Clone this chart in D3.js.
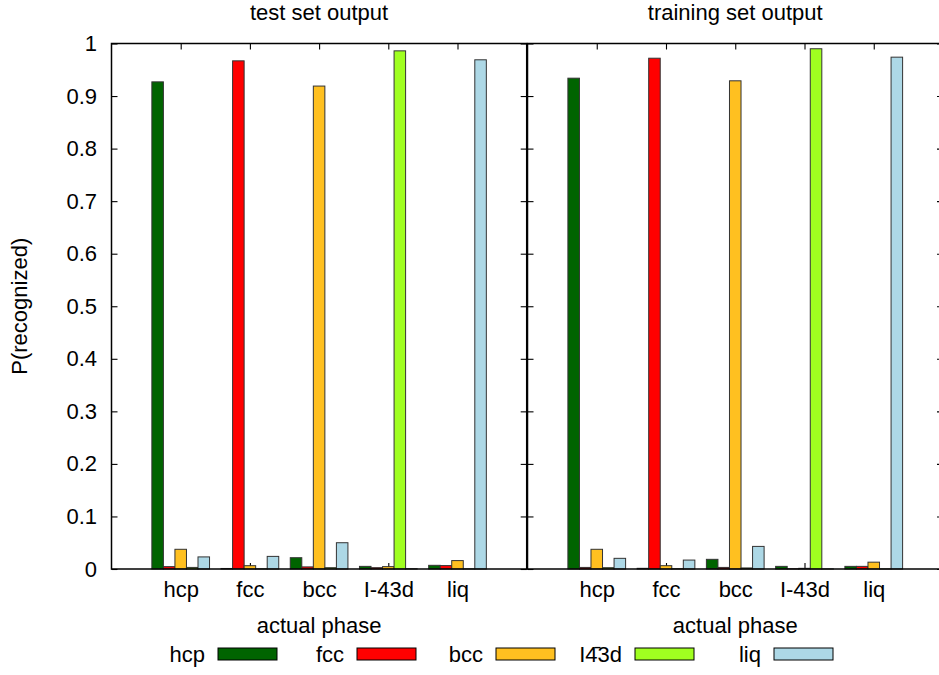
<!DOCTYPE html>
<html>
<head>
<meta charset="utf-8">
<script src="https://cdn.jsdelivr.net/npm/d3@7"></script>
<style>
  html, body { margin: 0; padding: 0; background: #fff; }
  svg text { font-family: "Liberation Sans", Arial, sans-serif; fill: #000; }
</style>
</head>
<body>
<svg id="chart" width="939" height="675"></svg>
<script>
// Actual phases along the x axis
const categories = ["hcp", "fcc", "bcc", "I-43d", "liq"];
// Predicted classes (one bar series each)
const seriesNames = ["hcp", "fcc", "bcc", "I4\u03043d", "liq"];
const seriesColors = ["#006400", "#ff0000", "#ffc020", "#a0ff20", "#add8e6"];

// Test set: probability of each predicted class, per actual phase
const testHcp  = [0.927, 0.001, 0.0215, 0.005, 0.007];
const testFcc  = [0.0045, 0.967, 0.004, 0.0025, 0.0065];
const testBcc  = [0.0375, 0.0063, 0.919, 0.0045, 0.016];
const testI43d = [0.003, 0.0003, 0.0025, 0.986, 0.0003];
const testLiq  = [0.023, 0.024, 0.050, 0.0005, 0.969];

// Training set
const trainHcp  = [0.934, 0.0013, 0.0184, 0.005, 0.005];
const trainFcc  = [0.003, 0.972, 0.003, 0.0005, 0.005];
const trainBcc  = [0.0375, 0.0063, 0.929, 0.0013, 0.013];
const trainI43d = [0.0025, 0.0005, 0.002, 0.990, 0.0002];
const trainLiq  = [0.0203, 0.017, 0.043, 0.0002, 0.974];

const yTicks = [0, 0.1, 0.2, 0.3, 0.4, 0.5, 0.6, 0.7, 0.8, 0.9, 1];
const panelTitles = ["test set output", "training set output"];
const xLabel = "actual phase";
const yLabel = "P(recognized)";

const svg = d3.select("#chart");
const FONT = 22;

const plotTop = 43.5, plotBottom = 569;
const y = d3.scaleLinear().domain([0, 1]).range([plotBottom, plotTop]);

const panels = [
  { title: panelTitles[0], series: [testHcp, testFcc, testBcc, testI43d, testLiq], x0: 111.5, x1: 526.7, yLabels: true },
  { title: panelTitles[1], series: [trainHcp, trainFcc, trainBcc, trainI43d, trainLiq], x0: 527.5, x1: 943, yLabels: false }
];

const nSeries = seriesNames.length;
const barW = 1 / (nSeries + 1); // histogram clustering with gap 1

panels.forEach(p => {
  const x = d3.scaleLinear().domain([-1, 5]).range([p.x0, p.x1]);
  const g = svg.append("g");
  const idx = d3.range(categories.length);

  // ticks first, bars are drawn over them
  const leftAxis = d3.axisLeft(y).tickValues(yTicks).tickSize(-6).tickPadding(14.5)
    .tickFormat(p.yLabels ? d3.format("~g") : "");
  const rightAxis = d3.axisRight(y).tickValues(yTicks).tickSize(-6).tickFormat("");
  const bottomAxis = d3.axisBottom(x).tickValues(idx).tickSize(-6).tickPadding(12.5)
    .tickFormat(i => categories[i]);
  const topAxis = d3.axisTop(x).tickValues(idx).tickSize(-6).tickFormat("");

  const axes = [
    g.append("g").attr("transform", `translate(${p.x0},0)`).call(leftAxis),
    g.append("g").attr("transform", `translate(${p.x1},0)`).call(rightAxis),
    g.append("g").attr("transform", `translate(0,${plotBottom})`).call(bottomAxis),
    g.append("g").attr("transform", `translate(0,${plotTop})`).call(topAxis)
  ];
  axes.forEach(a => {
    a.select(".domain").remove();
    a.selectAll("line").attr("stroke", "#000").attr("stroke-width", 1.1);
    a.selectAll("text").attr("font-size", FONT).attr("font-family", "Liberation Sans, Arial, sans-serif").attr("fill", "#000");
  });

  // bars
  p.series.forEach((vals, s) => {
    g.append("g").selectAll("rect").data(vals).join("rect")
      .attr("x", (v, i) => x(i + (s - (nSeries - 1) / 2) * barW - barW / 2))
      .attr("width", x(barW) - x(0))
      .attr("y", v => y(v))
      .attr("height", v => y(0) - y(v))
      .attr("fill", seriesColors[s])
      .attr("stroke", "#333")
      .attr("stroke-width", 1);
  });

  // frame
  g.append("rect")
    .attr("x", p.x0).attr("y", plotTop)
    .attr("width", p.x1 - p.x0).attr("height", plotBottom - plotTop)
    .attr("fill", "none").attr("stroke", "#000").attr("stroke-width", 1.5);

  // titles
  const cx = (p.x0 + p.x1) / 2;
  g.append("text").attr("x", cx).attr("y", 20).attr("text-anchor", "middle")
    .attr("font-size", FONT).text(p.title);
  g.append("text").attr("x", cx).attr("y", 633).attr("text-anchor", "middle")
    .attr("font-size", FONT).text(xLabel);
});

// y axis label
svg.append("text")
  .attr("transform", `translate(27,${(plotTop + plotBottom) / 2}) rotate(-90)`)
  .attr("text-anchor", "middle").attr("font-size", FONT).text(yLabel);

// legend
const legend = svg.append("g");
const legX0 = 218, legStep = 139, legY = 648, swW = 59, swH = 12;
seriesNames.forEach((name, i) => {
  const sx = legX0 + i * legStep;
  legend.append("text").attr("x", sx - 13).attr("y", legY + swH / 2).attr("dy", "0.35em")
    .attr("text-anchor", "end").attr("font-size", FONT).text(name);
  legend.append("rect").attr("x", sx).attr("y", legY).attr("width", swW).attr("height", swH)
    .attr("fill", seriesColors[i]).attr("stroke", "#000").attr("stroke-width", 1);
});
</script>
</body>
</html>
